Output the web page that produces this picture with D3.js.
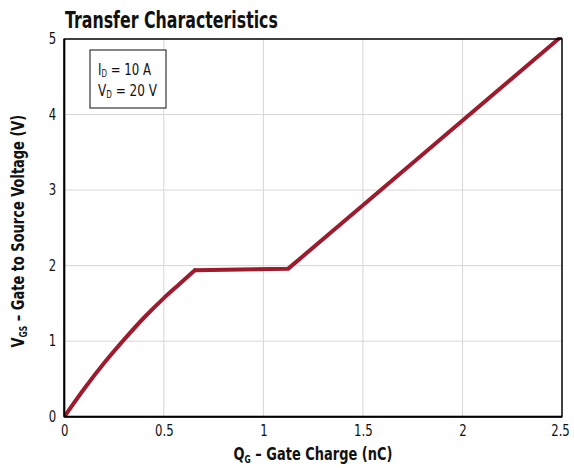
<!DOCTYPE html>
<html><head><meta charset="utf-8">
<script src="https://cdn.jsdelivr.net/npm/d3@7"></script>
<style>
body{margin:0;background:#fff;}
text{font-family:"DejaVu Sans",sans-serif;}
</style></head>
<body><svg id="c" width="574" height="468"></svg>
<script>
// rising part (before plateau)
const qgRise = [0, 0.1, 0.2, 0.3, 0.4, 0.5, 0.58, 0.656];
const vgsRise = [0, 0.37, 0.71, 1.02, 1.31, 1.57, 1.76, 1.94];
// plateau and linear part
const qgLin = [0.656, 1.125, 1.5, 2.5];
const vgsLin = [1.94, 1.96, 2.80, 5.04];
const xTicks = [0, 0.5, 1, 1.5, 2, 2.5];
const yTicks = [0, 1, 2, 3, 4, 5];

const svg = d3.select("#c");
const m = {l:64.3, r:562, t:39, b:416.7};
const x = d3.scaleLinear().domain([0,2.5]).range([m.l,m.r]);
const y = d3.scaleLinear().domain([0,5]).range([m.b,m.t]);

function condense(sel, f){ sel.each(function(){ const w=this.getComputedTextLength(); d3.select(this).attr("textLength", w*f).attr("lengthAdjust","spacingAndGlyphs"); }); }
// pieces: [text, fontSize, baselineShift]; drawn at natural size inside a horizontally scaled group
function rich(parent, x0, y0, pieces, weight, targetW, anchor){
  const g = parent.append("g");
  const els = pieces.map(p => g.append("text").attr("y", (p[2]||0)).attr("font-size", p[1])
     .attr("font-weight", weight).attr("fill","#111").attr("xml:space","preserve").style("white-space","pre").text(p[0]));
  const ws = els.map(e => e.node().getComputedTextLength());
  const tot = ws.reduce((a,b)=>a+b,0);
  const f = targetW / tot;
  let cx = 0;
  els.forEach((e,i) => { e.attr("x", cx); cx += ws[i]; });
  const sx = anchor === "middle" ? x0 - targetW/2 : x0;
  g.attr("transform", `translate(${sx},${y0}) scale(${f},1)`);
}

svg.append("defs").append("clipPath").attr("id","clip").append("rect")
  .attr("x",m.l).attr("y",m.t-2).attr("width",m.r-m.l).attr("height",m.b-m.t+2);

// grid
svg.append("g").selectAll("line").data(xTicks.slice(1,-1)).join("line")
  .attr("x1",d=>x(d)).attr("x2",d=>x(d)).attr("y1",m.t).attr("y2",m.b)
  .attr("stroke","#d6d6d6").attr("stroke-width",1);
svg.append("g").selectAll("line").data(yTicks.slice(1,-1)).join("line")
  .attr("y1",d=>y(d)).attr("y2",d=>y(d)).attr("x1",m.l).attr("x2",m.r)
  .attr("stroke","#d6d6d6").attr("stroke-width",1);

// axes
const xa = svg.append("g").attr("transform",`translate(0,${m.b})`)
  .call(d3.axisBottom(x).tickValues(xTicks).tickSize(0).tickPadding(9).tickFormat(d3.format("")));
xa.select(".domain").remove();
xa.selectAll("text").attr("font-size",15).attr("fill","#111").style("font-family","'DejaVu Sans',sans-serif");
condense(xa.selectAll("text"), 0.78);
const ya = svg.append("g").attr("transform",`translate(${m.l},0)`)
  .call(d3.axisLeft(y).tickValues(yTicks).tickSize(0).tickPadding(8).tickFormat(d3.format("")));
ya.select(".domain").remove();
ya.selectAll("text").attr("font-size",15).attr("fill","#111").style("font-family","'DejaVu Sans',sans-serif");
condense(ya.selectAll("text"), 0.78);
xa.selectAll(".tick").filter(d=>d===2.5).select("text").attr("dx",-2);

// curve
const lineRise = d3.line().x((d,i)=>x(qgRise[i])).y((d,i)=>y(vgsRise[i])).curve(d3.curveMonotoneX);
const lineLin = d3.line().x((d,i)=>x(qgLin[i])).y((d,i)=>y(vgsLin[i]));
const cg = svg.append("g").attr("clip-path","url(#clip)");
cg.append("path").datum(vgsRise).attr("d",lineRise).attr("fill","none")
  .attr("stroke","#9e1b2d").attr("stroke-width",4).attr("stroke-linecap","round");
cg.append("path").datum(vgsLin).attr("d",lineLin).attr("fill","none")
  .attr("stroke","#9e1b2d").attr("stroke-width",4).attr("stroke-linejoin","miter").attr("stroke-linecap","round");

// frame
svg.append("rect").attr("x",m.l).attr("y",m.t).attr("width",m.r-m.l).attr("height",m.b-m.t)
  .attr("fill","none").attr("stroke","#000").attr("stroke-width",1.5);
svg.append("line").attr("x1",m.l).attr("x2",m.l).attr("y1",m.t).attr("y2",m.b).attr("stroke","#000").attr("stroke-width",2);
svg.append("line").attr("x1",m.l).attr("x2",m.r).attr("y1",m.b).attr("y2",m.b).attr("stroke","#000").attr("stroke-width",2);

// title
rich(svg, 65, 28, [["Transfer Characteristics", 23]], "bold", 213, "start");

// legend box
svg.append("rect").attr("x",90).attr("y",50).attr("width",76).attr("height",58)
  .attr("fill","#fff").attr("stroke","#444").attr("stroke-width",1.3);
rich(svg, 98, 75, [["I",16.5],["D",10,2],[" = 10 A",16.5]], "normal", 53, "start");
rich(svg, 98, 96, [["V",16.5],["D",10,2],[" = 20 V",16.5]], "normal", 59, "start");

// x axis title
rich(svg, 313, 460, [["Q",17],["G",10,3],[" – Gate Charge (nC)",17]], "bold", 159, "middle");

// y axis title
const yg = svg.append("g").attr("transform","translate(24,231) rotate(-90)");
rich(yg, 0, 0, [["V",17],["GS",10,3],[" – Gate to Source Voltage (V)",17]], "bold", 233, "middle");
</script></body></html>
